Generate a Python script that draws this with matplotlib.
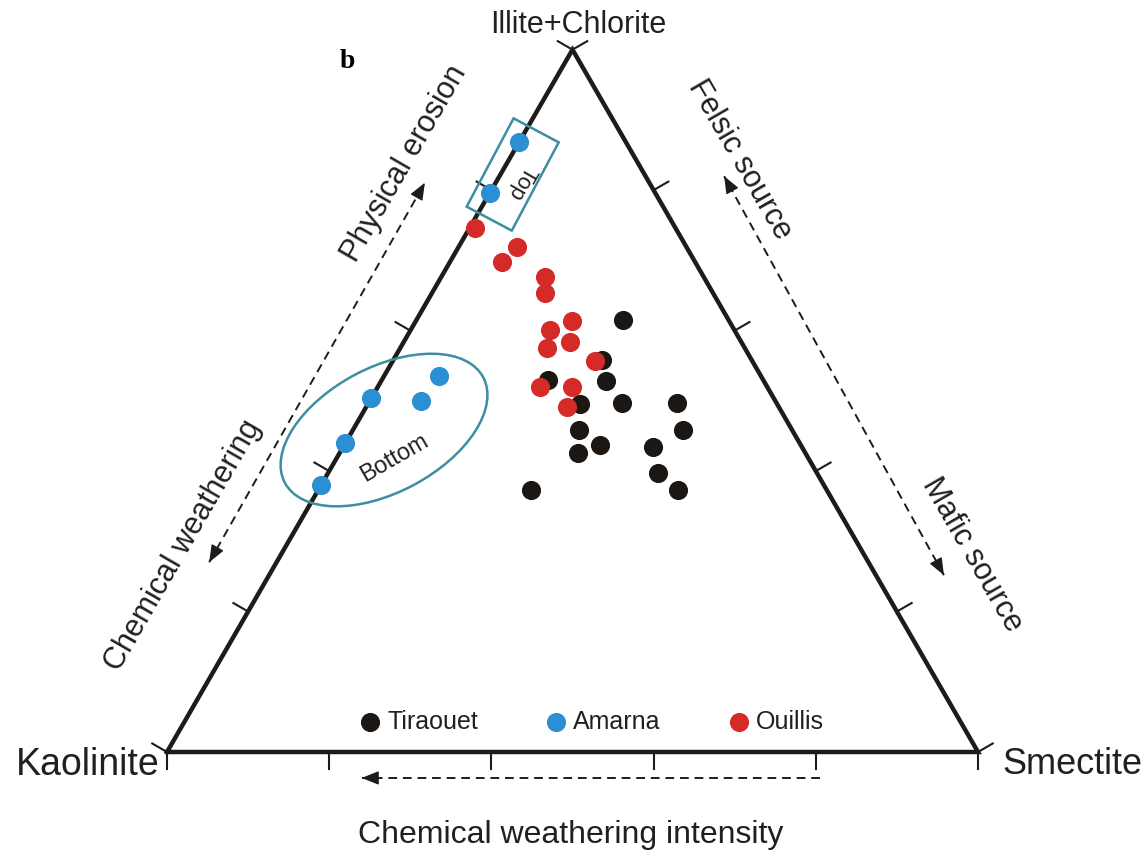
import numpy as np
import matplotlib.pyplot as plt
from matplotlib.patches import Ellipse, Rectangle

plt.rcParams['font.family'] = ['Liberation Sans', 'DejaVu Sans']

# clay fractions in %: illite+chlorite, smectite, kaolinite
tir_ic = [61.5, 55.8, 53.0, 52.8, 49.6, 49.7, 49.7, 45.9, 45.9, 43.7, 43.4, 42.6, 39.7, 37.3, 37.3]
tir_sm = [25.5, 25.7, 20.5, 27.7, 26.1, 31.2, 38.0, 40.7, 27.9, 31.6, 38.2, 29.4, 40.7, 44.4, 26.2]
tir_ka = [13.0, 18.5, 26.5, 19.5, 24.3, 19.1, 12.3, 13.4, 26.2, 24.7, 18.4, 28.0, 19.6, 18.3, 36.5]

ama_ic = [86.8, 79.6, 50.4, 44.0, 38.0, 50.0, 53.6]
ama_sm = [0.0, 0.0, 0.0, 0.0, 0.0, 6.3, 6.7]
ama_ka = [13.2, 20.4, 49.6, 56.0, 62.0, 43.7, 39.7]

oui_ic = [74.6, 71.9, 69.7, 67.7, 65.4, 60.1, 61.3, 57.5, 58.4, 55.6, 52.0, 52.0, 49.1]
oui_sm = [0.7, 7.2, 6.5, 12.8, 13.9, 17.2, 19.3, 18.1, 20.5, 25.0, 20.0, 23.9, 24.8]
oui_ka = [24.7, 20.9, 23.8, 19.5, 20.7, 22.7, 19.4, 24.4, 21.1, 19.4, 28.0, 24.1, 26.1]

tick_vals = [0, 20, 40, 60, 80, 100]

H = np.sqrt(3) / 2
INK = '#1e1b18'
TXT = '#231f20'
RING = '#3c8ea2'


def to_xy(ic, sm, ka):
    ic, sm, ka = (np.asarray(v, float) for v in (ic, sm, ka))
    tot = ic + sm + ka
    return (sm + ic / 2) / tot, ic * H / tot


def dashed_arrow(ax, p0, p1, both=False):
    p0, p1 = np.asarray(p0), np.asarray(p1)
    ax.plot([p0[0], p1[0]], [p0[1], p1[1]], color=INK, lw=1.4,
            ls=(0, (4.5, 3)), zorder=2)
    d = (p1 - p0) / np.hypot(*(p1 - p0))
    ends = [(p1, d)] + ([(p0, -d)] if both else [])
    for tip, v in ends:
        ax.annotate('', xy=tip, xytext=tip - 0.015 * v,
                    arrowprops=dict(arrowstyle='-|>,head_length=0.75,head_width=0.3',
                                    color=INK, lw=1.0, shrinkA=0, shrinkB=0,
                                    mutation_scale=14), zorder=2)


fig = plt.figure(figsize=(11.42, 8.51), dpi=100)
ax = fig.add_axes([0, 0, 1, 1])
ax.set_xlim(-167 / 811, 975 / 811)
ax.set_ylim(-99 / 811, 752 / 811)
ax.axis('off')

# frame
corners = np.array([[0, 0], [1, 0], [0.5, H], [0, 0]])
ax.plot(corners[:, 0], corners[:, 1], color=INK, lw=3.2, solid_joinstyle='miter', zorder=3)

# ticks, perpendicular and pointing out of each side
tl = 0.021
edges = [((0, 0), (1, 0), (0, -1)),
         ((0, 0), (0.5, H), (-H, 0.5)),
         ((0.5, H), (1, 0), (H, 0.5))]
for a, b, n in edges:
    a, b, n = np.array(a), np.array(b), np.array(n)
    for t in tick_vals:
        p = a + (b - a) * t / 100
        ax.plot([p[0], p[0] + tl * n[0]], [p[1], p[1] + tl * n[1]],
                color=INK, lw=1.5, zorder=3)

# samples
x, y = to_xy(tir_ic, tir_sm, tir_ka)
h1 = ax.scatter(x, y, s=190, color='#1c1713', lw=0, zorder=4, label='Tiraouet')
x, y = to_xy(ama_ic, ama_sm, ama_ka)
h2 = ax.scatter(x, y, s=190, color='#2b8fd4', lw=0, zorder=5, label='Amarna')
x, y = to_xy(oui_ic, oui_sm, oui_ka)
h3 = ax.scatter(x, y, s=190, color='#d52b28', lw=0, zorder=5, label='Ouillis')

# sample groups
ax.add_patch(Ellipse((0.2676, 0.397), 0.277, 0.154, angle=28, fill=False,
                     ec=RING, lw=1.8, zorder=6))
ax.add_patch(Rectangle((0.4263 - 0.0617, 0.7121 - 0.0315), 0.1233, 0.063, angle=62,
                       rotation_point='center', fill=False, ec=RING, lw=1.8, zorder=6))
ax.text(0.4375, 0.7016, 'Top', rotation=-120, fontsize=16, color=TXT,
        ha='center', va='center', zorder=6)
ax.text(0.281, 0.3625, 'Bottom', rotation=30, fontsize=17, color=TXT,
        ha='center', va='center', zorder=6)

# end members
ax.text(0.507, 0.896, 'Illite+Chlorite', fontsize=22, color=TXT, ha='center', va='center')
ax.text(-0.009, -0.016, 'Kaolinite', fontsize=27, color=TXT, ha='right', va='center')
ax.text(1.030, -0.016, 'Smectite', fontsize=26, color=TXT, ha='left', va='center')
ax.text(0.222, 0.851, 'b', fontsize=20, fontweight='bold', family='Liberation Serif',
        color='black', ha='center', va='center')

# process arrows
dashed_arrow(ax, (0.052, 0.234), (0.318, 0.702), both=True)
dashed_arrow(ax, (0.958, 0.218), (0.687, 0.710), both=True)
dashed_arrow(ax, (0.805, -0.032), (0.240, -0.032))

ax.text(0.293, 0.726, 'Physical erosion', rotation=60, fontsize=22, color=TXT,
        ha='center', va='center', rotation_mode='anchor')
ax.text(0.020, 0.255, 'Chemical weathering', rotation=60, fontsize=22, color=TXT,
        ha='center', va='center', rotation_mode='anchor')
ax.text(0.7065, 0.730, 'Felsic source', rotation=-60, fontsize=22, color=TXT,
        ha='center', va='center', rotation_mode='anchor')
ax.text(0.9926, 0.243, 'Mafic source', rotation=-60, fontsize=22, color=TXT,
        ha='center', va='center', rotation_mode='anchor')
ax.text(0.498, -0.102, 'Chemical weathering intensity', fontsize=23, color=TXT,
        ha='center', va='center')

ax.legend(handles=[h1, h2, h3], loc='center', bbox_to_anchor=(0.5245, 0.037),
          bbox_transform=ax.transData, ncol=3, frameon=False, fontsize=18,
          handlelength=0.75, handletextpad=0.3, columnspacing=2.75,
          scatterpoints=1, labelcolor=TXT)

fig.savefig('out.png', dpi=100)
